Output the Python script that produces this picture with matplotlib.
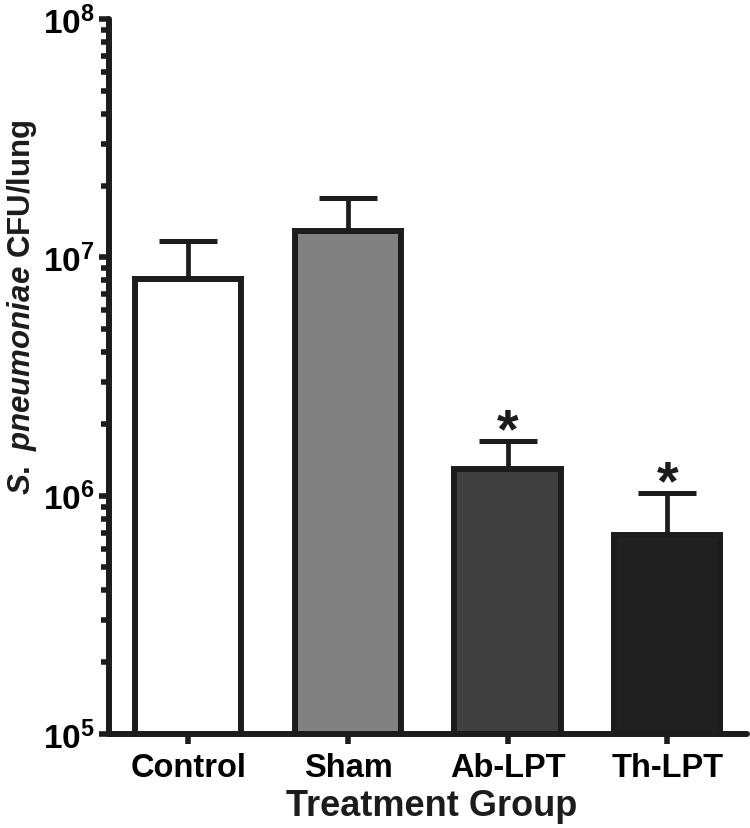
import numpy as np
import matplotlib
matplotlib.use("Agg")
import matplotlib.pyplot as plt
from matplotlib.ticker import LogLocator, FixedLocator, FixedFormatter, NullFormatter

plt.rcParams['font.family'] = ['Liberation Sans', 'DejaVu Sans']
plt.rcParams['font.weight'] = 'bold'
plt.rcParams['mathtext.fontset'] = 'custom'
plt.rcParams['mathtext.rm'] = 'Liberation Sans:bold'
plt.rcParams['mathtext.it'] = 'Liberation Sans:bold:italic'
plt.rcParams['mathtext.bf'] = 'Liberation Sans:bold'

# data
groups = ["Control", "Sham", "Ab-LPT", "Th-LPT"]
cfu_mean = [8.1e6, 1.29e7, 1.29e6, 6.85e5]
cfu_upper = [1.17e7, 1.77e7, 1.70e6, 1.03e6]
significant = [False, False, True, True]
bar_colors = ["#ffffff", "#808080", "#404040", "#202020"]
ytick_values = [1e5, 1e6, 1e7, 1e8]
ytick_labels = [r'$\mathrm{10^{5}}$', r'$\mathrm{10^{6}}$', r'$\mathrm{10^{7}}$', r'$\mathrm{10^{8}}$']

ink = "#1c1c1c"
lw = 4.3

fig = plt.figure(figsize=(7.5, 8.29), dpi=100)
ax = fig.add_axes([0.1447, 0.1134, 0.996 - 0.1447, 0.9759 - 0.1134])

x = np.arange(len(groups))
err_up = np.array(cfu_upper) - np.array(cfu_mean)
ax.errorbar(x, cfu_mean, yerr=[np.zeros(len(x)), err_up], fmt='none',
            ecolor=ink, elinewidth=3.4, capsize=21, capthick=3.6, zorder=1)
ax.bar(x, cfu_mean, width=0.665, color=bar_colors, edgecolor=ink,
       linewidth=lw, zorder=2)

for xi, up, sig in zip(x, cfu_upper, significant):
    if sig:
        ax.annotate("*", (xi, up), xytext=(0, -4), textcoords='offset points',
                    ha='center', va='baseline', fontsize=40, fontweight='bold',
                    color=ink)

ax.set_yscale('log')
ax.set_ylim(1e5, 1e8)
ax.set_xlim(-0.5, 3.5)
ax.yaxis.set_major_locator(FixedLocator(ytick_values))
ax.yaxis.set_major_formatter(FixedFormatter(ytick_labels))
ax.yaxis.set_minor_locator(LogLocator(base=10, subs=np.arange(2, 10)))
ax.yaxis.set_minor_formatter(NullFormatter())
ax.set_xticks(x)
ax.set_xticklabels(groups, fontsize=23.5, fontweight='bold')

for s in ['top', 'right']:
    ax.spines[s].set_visible(False)
for s in ['left', 'bottom']:
    ax.spines[s].set_linewidth(lw)
    ax.spines[s].set_color(ink)
    ax.spines[s].set_capstyle('round')

ax.tick_params(axis='y', which='major', length=7, width=4, color=ink,
               labelsize=24, pad=3)
ax.tick_params(axis='y', which='minor', length=6, width=4, color=ink)
ax.tick_params(axis='x', which='major', length=7, width=4, color=ink, pad=6)

fig.text(0.029, 0.63, r'$\it{S.\ pneumoniae}$ CFU/lung', rotation=90,
         ha='center', va='center', fontsize=22.5, fontweight='bold', color=ink)
fig.text(0.575, 0.016, "Treatment Group", ha='center', va='baseline',
         fontsize=26, fontweight='bold', color=ink)

fig.savefig("out.png", dpi=100, facecolor='white')
